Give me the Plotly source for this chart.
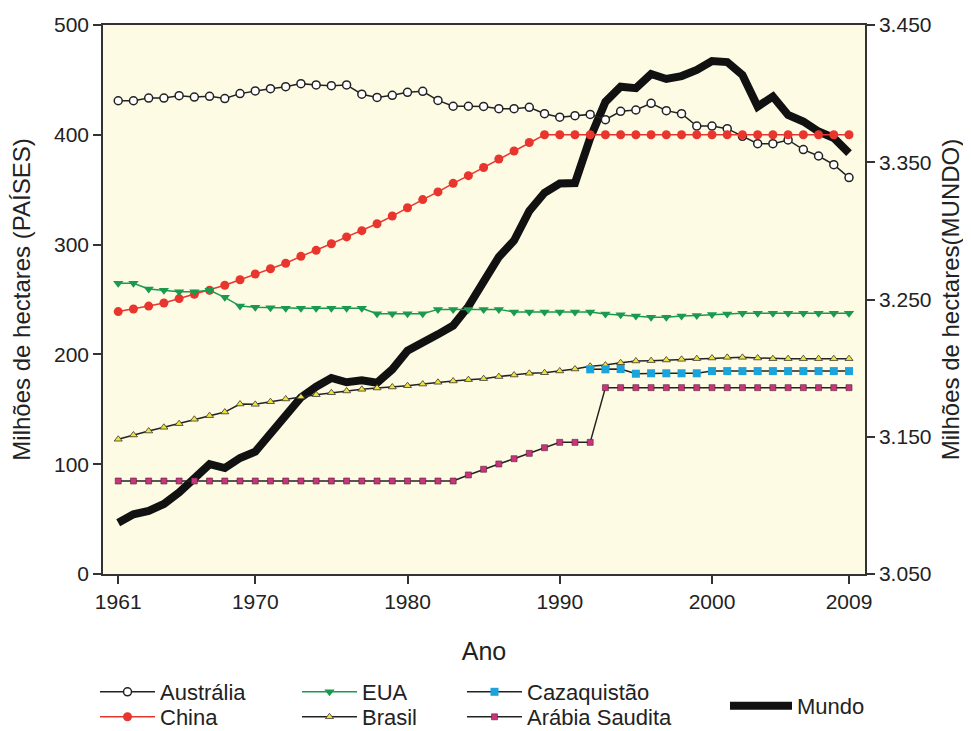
import plotly.graph_objects as go

years = list(range(1961, 2010))

australia = [431, 431, 433.5, 433.5, 435.6, 434.4, 435, 433, 437.5, 440,
             442, 443.8, 446.6, 445.4, 444.7, 445.4, 437, 434, 436, 438.7,
             439.6, 431.3, 426, 426, 425.8, 423.8, 423.8, 425, 419.2, 416,
             417.4, 418.6, 413.8, 421.4, 422.6, 428.7, 422, 419.2, 408, 408,
             405.6, 398.6, 391.9, 391.9, 395.3, 386.5, 380.7, 372.8, 361]

china = [239, 241.3, 244, 246.8, 250.8, 254.7, 258.4, 263, 268, 273.2,
         278, 283, 289.3, 294.8, 300.8, 307, 312.7, 319, 326, 333.6,
         341, 348, 355.8, 362.8, 370.2, 378, 385.2, 393, 400, 400,
         400, 400, 400, 400, 400, 400, 400, 400, 400, 400,
         400, 400, 400, 400, 400, 400, 400, 400, 400]

eua = [264.7, 264.7, 259.6, 258.4, 257, 257, 258.4, 252, 244, 243,
       242.5, 242, 242, 242, 242, 242, 242, 237, 237, 237,
       237, 241, 241, 241, 241, 241, 238.6, 238.6, 238.6, 238.6,
       238.6, 238.6, 236.8, 236, 235, 233.8, 233.8, 235, 235.5, 236.3,
       236.8, 237.4, 237.4, 237.4, 237.4, 237.4, 237.4, 237.4, 237.4]

brasil = [122.7, 126.6, 130.2, 133.6, 136.9, 140.9, 144.2, 147.5, 154.8, 154.5,
          156.9, 159.4, 161.2, 163.3, 165.1, 166.7, 168.2, 169.4, 170.3, 171.5,
          173, 174.6, 175.8, 177, 177.9, 179.8, 181.2, 182.8, 183.3, 184.9,
          186.7, 189.2, 190.3, 192.4, 194, 194.3, 194.9, 195.5, 196.1, 196.7,
          197.3, 197.3, 196.7, 196.1, 196.1, 196.1, 196.1, 196.1, 196.1]

kaz_years = list(range(1992, 2010))
cazaquistao = [186.4, 186.4, 186.7, 182.4, 182.8, 182.8, 182.8, 182.8, 184.8,
               184.8, 184.8, 184.8, 184.8, 184.8, 184.8, 184.8, 184.8, 184.8]

arabia = [84.7, 84.7, 84.7, 84.7, 84.7, 84.7, 84.7, 84.7, 84.7, 84.7,
          84.7, 84.7, 84.7, 84.7, 84.7, 84.7, 84.7, 84.7, 84.7, 84.7,
          84.7, 84.7, 84.7, 90.2, 95.4, 100.2, 105, 109.9, 115, 119.9,
          119.9, 119.9, 169.7, 169.7, 169.7, 169.7, 169.7, 169.7, 169.7, 169.7,
          169.7, 169.7, 169.7, 169.7, 169.7, 169.7, 169.7, 169.7, 169.7]

mundo = [3087.4, 3093.5, 3096, 3101, 3109.5, 3120.6, 3130, 3127.2, 3134.5, 3139.1,
         3151.6, 3165, 3178.6, 3186.5, 3192.8, 3189.7, 3191.1, 3189.4, 3199.1, 3212.7,
         3218.1, 3224.6, 3231, 3245, 3263, 3281, 3293, 3314.5, 3327.8, 3334.5,
         3334.8, 3367.7, 3394, 3405, 3404, 3414.3, 3410.7, 3412.8, 3417.2, 3423.8,
         3423, 3413.6, 3390.6, 3397.9, 3384.4, 3379.7, 3372.4, 3367.7, 3356.7]

x_ticks = [1961, 1970, 1980, 1990, 2000, 2009]
left_ticks = [0, 100, 200, 300, 400, 500]
right_ticks = [3050, 3150, 3250, 3350, 3450]
right_ticktext = ["3.050", "3.150", "3.250", "3.350", "3.450"]

FONT = "Liberation Sans, Arial, sans-serif"
AX = "#333333"

fig = go.Figure()

# World (primary y, right side) drawn first so country series sit on top
fig.add_trace(go.Scatter(x=years, y=mundo, name="Mundo", mode="lines",
                         line=dict(color="#111111", width=8), yaxis="y",
                         legend="legend7"))

fig.add_trace(go.Scatter(x=years, y=australia, name="Austrália", mode="lines+markers",
                         line=dict(color="#222222", width=1.5),
                         marker=dict(symbol="circle", size=8, color="white",
                                     line=dict(color="#222222", width=1.5)),
                         yaxis="y2", legend="legend"))
fig.add_trace(go.Scatter(x=years, y=china, name="China", mode="lines+markers",
                         line=dict(color="#e8352e", width=1.5),
                         marker=dict(symbol="circle", size=9, color="#e8352e"),
                         yaxis="y2", legend="legend2"))
fig.add_trace(go.Scatter(x=years, y=eua, name="EUA", mode="lines+markers",
                         line=dict(color="#1a9a4e", width=1.5),
                         marker=dict(symbol="triangle-down", size=9, color="#1a9a4e"),
                         yaxis="y2", legend="legend3"))
fig.add_trace(go.Scatter(x=years, y=brasil, name="Brasil", mode="lines+markers",
                         line=dict(color="#222222", width=1.5),
                         marker=dict(symbol="triangle-up", size=7, color="#f2e33c",
                                     line=dict(color="#333333", width=0.8)),
                         yaxis="y2", legend="legend4"))
fig.add_trace(go.Scatter(x=kaz_years, y=cazaquistao, name="Cazaquistão", mode="lines+markers",
                         line=dict(color="#222222", width=1.5),
                         marker=dict(symbol="square", size=8, color="#1ba3dc"),
                         yaxis="y2", legend="legend5"))
fig.add_trace(go.Scatter(x=years, y=arabia, name="Arábia Saudita", mode="lines+markers",
                         line=dict(color="#222222", width=1.5),
                         marker=dict(symbol="square", size=6, color="#c8357c",
                                     line=dict(color="#552233", width=0.6)),
                         yaxis="y2", legend="legend6"))

# the page body adds an 8px offset; size the figure so the plot lands where it should
OFF = 8
L, R, T, B = 95, 106, 17, 157
W, H = 963, 723
pw, ph = W - L - R, H - T - B


def px(xp):
    return (xp - OFF - L) / pw


def py(yp):
    return (H - B - (yp - OFF)) / ph


def leg(xp, yp, iw=55):
    return dict(x=px(xp), y=py(yp), xanchor="left", yanchor="middle",
                orientation="v", bgcolor="rgba(0,0,0,0)", borderwidth=0,
                font=dict(family=FONT, size=22, color="#222222"),
                itemwidth=iw, itemclick=False)


fig.update_layout(
    width=W, height=H,
    margin=dict(l=L, r=R, t=T, b=B, autoexpand=False),
    paper_bgcolor="white",
    plot_bgcolor="#fdfbe3",
    font=dict(family=FONT, size=21, color="#222222"),
    showlegend=True,
    xaxis=dict(range=[1960.0, 2010.05], tickvals=x_ticks, ticks="outside", ticklen=8,
               tickwidth=1.5, tickcolor=AX, showline=True, linecolor=AX, linewidth=1.5,
               mirror=True, showgrid=False, zeroline=False, automargin=False,
               tickfont=dict(size=21),
               title=dict(text="Ano", font=dict(size=25), standoff=31)),
    yaxis=dict(range=[3050, 3450], side="right", tickvals=right_ticks,
               ticktext=right_ticktext, ticks="outside", ticklen=8, tickwidth=1.5,
               tickcolor=AX, showline=True, linecolor=AX, linewidth=1.5,
               showgrid=False, zeroline=False, automargin=False, tickfont=dict(size=21),
               title=dict(text="Milhões de hectares(MUNDO)", font=dict(size=24),
                          standoff=12)),
    yaxis2=dict(range=[0, 500], overlaying="y", side="left", tickvals=left_ticks,
                ticks="outside", ticklen=8, tickwidth=1.5, tickcolor=AX,
                showline=True, linecolor=AX, linewidth=1.5, showgrid=False,
                zeroline=False, automargin=False, tickfont=dict(size=21),
                title=dict(text="Milhões de hectares (PAÍSES)", font=dict(size=24),
                           standoff=17)),
    legend=leg(95, 692),
    legend2=leg(95, 717),
    legend3=leg(297, 692),
    legend4=leg(297, 717),
    legend5=leg(462, 692),
    legend6=leg(462, 717),
    legend7=leg(725, 706, iw=62),
)

fig.write_html("out.html")
